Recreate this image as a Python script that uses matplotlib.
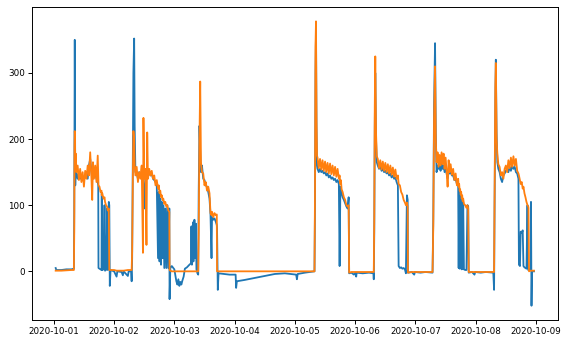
import pandas as pd
import matplotlib
matplotlib.use('Agg')
import matplotlib.pyplot as plt
import matplotlib.dates as mdates
from matplotlib.ticker import MultipleLocator

# Hours since 2020-10-01 00:00, one row per sample
hours = [
    # day 1
    0.75, 1.0, 3.0, 5.0, 7.0, 8.0, 8.15, 8.25, 8.35, 8.45, 8.55, 8.75,
    9.0, 9.5, 10.0, 10.5, 11.0, 11.5, 12.0, 12.5, 13.0, 13.5, 14.0, 14.5,
    15.0, 15.3, 15.6, 16.0, 16.5, 17.0, 17.5, 17.7, 17.8, 18.2, 18.6, 19.0,
    19.1, 19.3, 19.8, 20.2, 20.4, 20.8, 21.2, 21.5, 21.9, 22.1, 22.3, 22.6,
    # night 1 / day 2
    24.0, 25.0, 25.3, 27.0, 27.5, 27.8, 29.5, 29.8, 30.8, 31.0, 31.2, 31.5,
    31.7, 32.0, 32.2, 32.5, 33.0, 33.5, 34.0, 34.5, 35.0, 35.5, 35.7, 36.0,
    36.5, 36.9, 37.2, 37.5, 38.0, 38.5, 39.0, 39.5, 40.0, 40.5, 41.0, 41.5,
    41.8, 42.1, 42.4, 42.7, 43.0, 43.3, 43.6, 44.0, 44.4, 44.8, 45.2, 45.6,
    46.0, 46.1, 46.4,
    # night 2 / day 3
    47.0, 48.0, 48.8, 49.2, 49.6, 50.0, 50.4, 50.8, 51.2, 51.7, 52.2, 53.0,
    54.0, 54.6, 54.8, 55.0, 55.4, 55.6, 56.0, 56.2, 56.6, 56.8, 57.2, 57.5,
    57.7, 58.0, 58.3, 58.6, 59.0, 59.5, 60.0, 60.5, 61.0, 61.5, 62.0, 62.4,
    62.8, 63.0, 63.5, 64.0, 64.5, 64.9, 65.0, 65.3, 65.6,
    # day 4 (quiet) / day 5
    68.0, 70.0, 72.4, 72.6, 72.9, 76.0, 80.0, 84.0, 88.0, 92.0, 96.5, 96.8,
    97.1, 100.0, 103.8, 104.0, 104.2, 104.4, 104.6, 104.8, 105.0, 105.5,
    106.0, 106.5, 107.0, 107.5, 108.0, 108.5, 109.0, 109.5, 110.0, 110.5,
    111.0, 111.5, 112.0, 112.5, 113.0, 113.5, 113.8, 114.1, 114.3, 114.6,
    115.0, 115.5, 116.0, 116.5, 117.0, 117.4, 117.6,
    # night 5 / day 6
    118.5, 119.5, 120.2, 120.4, 120.6, 123.0, 125.5, 127.3, 127.4, 127.6,
    127.8, 128.0, 128.3, 128.6, 129.0, 129.5, 130.0, 130.5, 131.0, 131.5,
    132.0, 132.5, 133.0, 133.5, 134.0, 134.5, 135.0, 135.5, 136.0, 136.5,
    137.0, 137.3, 137.8, 138.3, 138.8, 139.3, 139.8, 140.2, 140.6, 140.9,
    141.0,
    # night 6 / day 7
    142.5, 143.5, 143.8, 146.0, 148.0, 150.8, 151.1, 151.4, 151.8, 152.1,
    152.4, 152.8, 153.2, 153.6, 154.0, 154.4, 154.8, 155.2, 155.6, 156.0,
    156.4, 156.8, 157.2, 157.6, 158.0, 158.5, 159.0, 159.5, 160.0, 160.5,
    161.0, 161.2, 161.4, 161.6, 161.8, 162.0, 162.2, 162.4, 162.6, 162.8,
    163.0, 163.3, 163.8, 164.3, 164.7, 165.0, 165.2,
    # night 7 / day 8
    166.5, 167.5, 167.8, 170.0, 172.0, 175.0, 175.3, 175.5, 175.8, 176.0,
    176.3, 176.6, 177.0, 177.5, 178.0, 178.5, 179.0, 179.5, 180.0, 180.5,
    181.0, 181.5, 182.0, 182.5, 183.0, 183.5, 184.0, 184.5, 185.0, 185.2,
    185.6, 185.9, 186.3, 186.7, 187.0, 187.4, 187.8, 188.2, 188.6, 188.9,
    189.0, 189.2, 189.8, 190.0, 190.2, 190.4, 191.2,
]

blue = [
    5, 2, 2, 3, 3, 4, 90, 230, 350, 240, 130, 165,
    150, 140, 148, 140, 145, 138, 140, 145, 150, 140, 160, 170,
    150, 140, 150, 145, 150, 140, 135, 130, 5, 4, 3, 2,
    118, 2, 3, 100, 1, 2, 95, 2, 105, 100, -22, 2,
    0, -8, 0, -1, -6, 0, -7, 0, 0, -15, 20, 180,
    300, 352, 220, 150, 148, 140, 150, 145, 150, 140, 130, 95,
    145, 140, 150, 145, 150, 145, 148, 140, 138, 135, 130, 20,
    120, 15, 110, 10, 105, 20, 100, 5, 95, 5, 100, 5,
    95, -42, 5,
    8, 3, -15, -20, -12, -22, -16, -20, -14, -8, 4, 6,
    10, 12, 68, 10, 74, 15, 78, 20, 72, 3, -3, -5,
    120, 220, 180, 150, 160, 140, 138, 130, 128, 120, 110, 85,
    20, 82, 78, 80, 75, 70, 65, -28, -3,
    -4, -5, -5, -25, -15, -13, -10, -7, -4, -3, -5, -12,
    -4, -2, 0, 100, 300, 360, 220, 160, 155, 150,
    155, 150, 152, 148, 150, 145, 148, 142, 145, 140,
    142, 138, 140, 135, 138, 132, 8, 128, 126, 118,
    112, 108, 103, 98, 95, 112, -3,
    -2, -5, -2, -8, -2, -3, -2, -3, -12, 60,
    220, 300, 200, 165, 160, 155, 160, 152, 155, 150,
    152, 148, 150, 145, 148, 142, 145, 140, 142, 135,
    130, 8, 5, 6, 4, 5, 3, -3, 115, 108,
    -2,
    -1, -5, -1, -2, -1, -2, 80, 250, 345, 210,
    150, 160, 155, 160, 152, 165, 155, 160, 150, 158,
    148, 140, 150, 148, 150, 145, 145, 138, 140, 132,
    130, 5, 125, 4, 120, 5, 115, 3, 110, 4,
    105, 3, 2, 2, 100, 98, -2,
    -1, -5, -1, -2, -1, -2, -28, 100, 260, 320,
    210, 165, 155, 150, 140, 135, 145, 148, 152, 155,
    150, 158, 152, 160, 155, 158, 150, 148, 140, 10,
    8, 60, 58, 62, 8, 6, 5, 4, 100, 2,
    2, 3, 2, 105, -52, 0, 0,
]

orange = [
    1, 1, 1, 1.5, 2, 2, 60, 190, 212, 205, 160, 178,
    150, 160, 138, 155, 135, 150, 128, 152, 140, 160, 145, 180,
    140, 108, 165, 140, 160, 135, 175, 140, 130, 128, 120, 122,
    115, 118, 110, 112, 105, 100, 98, 92, 95, 2, 2, 2,
    2, 1, 1, 1, 1, 1, 2, 2, 2, 2, 30, 150,
    212, 200, 160, 145, 158, 135, 150, 140, 160, 28, 232, 140,
    155, 40, 210, 140, 155, 145, 152, 140, 145, 130, 138, 125,
    130, 118, 122, 112, 115, 108, 110, 102, 105, 98, 100, 92,
    90, 2, 1,
    0, 0, 0, 0, 0, 0, 0, 0, 0, 0, 0, 0,
    0, 0, 0, 0, 0, 0, 0, 0, 0, 0, 0, 0,
    60, 200, 287, 165, 150, 148, 130, 135, 122, 128, 118, 88,
    85, 90, 82, 88, 85, 86, 0, 0, 0,
    0, 0, 0, 0, 0, 0, 0, 0, 0, 0, 0, 0,
    0, 0, 0, 120, 340, 378, 230, 175, 172, 156,
    170, 154, 168, 152, 166, 150, 164, 148, 163, 147,
    160, 145, 158, 143, 155, 140, 145, 132, 138, 124,
    120, 112, 108, 100, 98, 100, -2,
    -1, -1, -1, -1, -1, -1, -1, -1, -1, 80,
    250, 325, 210, 174, 170, 156, 168, 154, 166, 152,
    164, 150, 162, 148, 160, 146, 157, 143, 154, 140,
    145, 132, 130, 120, 116, 108, 104, 100, 104, 98,
    -2,
    -1, -1, -1, -1, -1, -1, 70, 230, 310, 200,
    165, 180, 158, 176, 160, 180, 162, 178, 155, 172,
    152, 128, 168, 150, 162, 146, 155, 138, 148, 130,
    140, 128, 132, 122, 124, 116, 120, 110, 115, 106,
    110, 102, 100, 96, 100, 95, -1,
    -1, -1, -1, -1, -1, -1, -1, 110, 280, 315,
    200, 178, 162, 158, 145, 150, 140, 155, 160, 150,
    168, 156, 172, 158, 174, 160, 170, 152, 148, 145,
    138, 132, 135, 125, 128, 118, 112, 105, 100, 98,
    96, 0, 1, 1, 1, 1, 1,
]

times = pd.Timestamp('2020-10-01') + pd.to_timedelta(hours, unit='h')

fig = plt.figure(figsize=(5.67, 3.40), dpi=100)
ax = fig.add_axes([0.056, 0.059, 0.928, 0.920])

ax.plot(times, blue, color='#1f77b4', lw=1.3)
ax.plot(times, orange, color='#ff7f0e', lw=1.3)

ax.xaxis.set_major_locator(mdates.DayLocator())
ax.xaxis.set_major_formatter(mdates.DateFormatter('%Y-%m-%d'))
ax.yaxis.set_major_locator(MultipleLocator(100))
ax.tick_params(labelsize=6.3, length=3, width=0.7, pad=2)
for s in ax.spines.values():
    s.set_linewidth(0.7)

fig.savefig('out.png', dpi=100)
